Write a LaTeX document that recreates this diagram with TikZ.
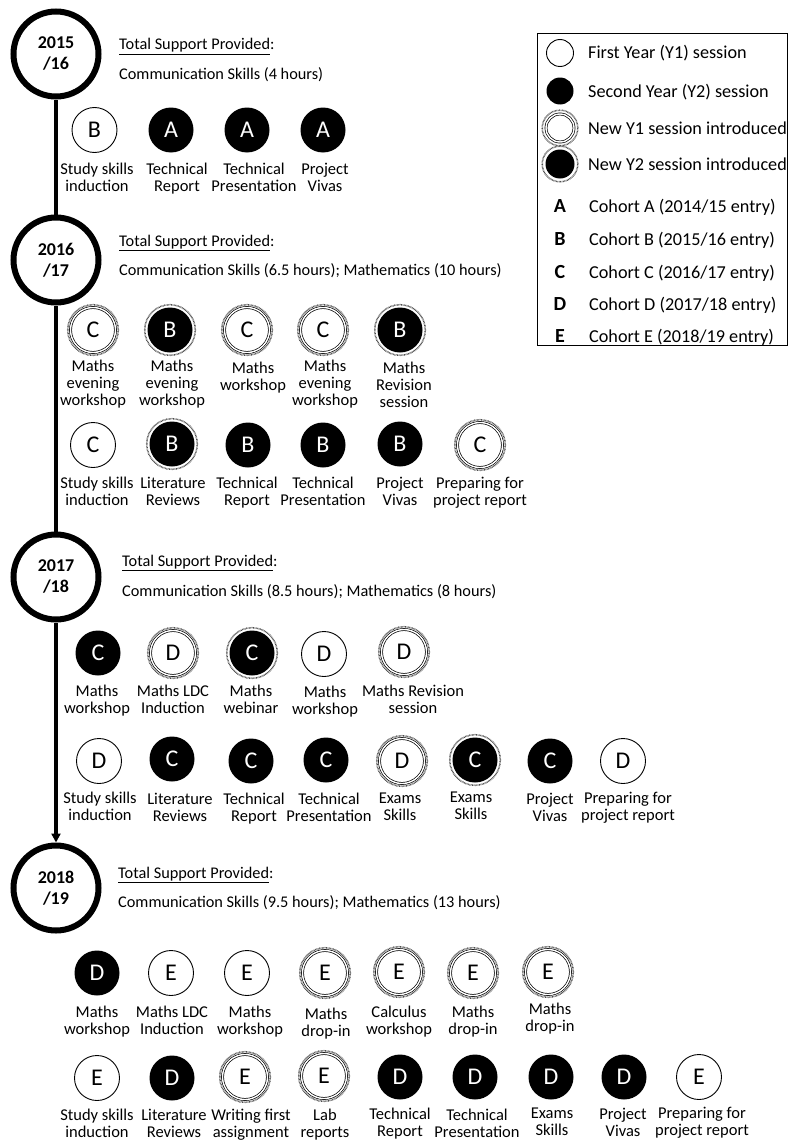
\documentclass[tikz,border=0pt]{standalone}
\usepackage{fontspec}
\setmainfont{Carlito}
\usetikzlibrary{arrows.meta}
\tikzset{
  yr/.style={circle, draw, line width=6pt, minimum size=85pt, inner sep=0pt, align=center,
    font=\fontsize{18}{21}\selectfont\bfseries},
  sbase/.style={circle, minimum size=45pt, inner sep=0pt, font=\fontsize{24}{24}\selectfont},
  y1/.style={sbase, draw, line width=0.9pt, fill=white},
  y2/.style={sbase, fill=black, text=white},
  ny1/.style={sbase, draw, fill=white, line width=0.7pt, double=white, double distance=1.4pt},
  ny2/.style={sbase, fill=black, text=white},
  ring/.style={draw=black!70, line width=1.5pt, dash pattern=on 0.7pt off 0.7pt},
  lbl/.style={anchor=north, align=center, inner sep=0pt, yshift=6pt,
    font=\fontsize{16.5}{17}\selectfont},
  ttl/.style={anchor=base west, inner sep=0pt, font=\fontsize{16.3}{19}\selectfont},
  leg/.style={anchor=base west, inner sep=0pt, font=\fontsize{18.2}{20}\selectfont},
  legl/.style={inner sep=0pt, font=\fontsize{20}{20}\selectfont\bfseries},
  tl/.style={line width=4pt},
}
% plain session: id, x, y, style, letter, label x, label y, label
\newcommand{\sess}[8]{%
  \node[#4] (#1) at (#2,#3) {#5};
  \node[lbl] (#1l) at (#6,#7) {#8};
}
% new session (with dotted ring)
\newcommand{\snew}[8]{%
  \draw[ring] (#2,#3) circle (25.3pt);
  \node[#4] (#1) at (#2,#3) {#5};
  \node[lbl] (#1l) at (#6,#7) {#8};
}
\begin{document}
\begin{tikzpicture}[x=1pt,y=-1pt]
\useasboundingbox[fill=white] (0,0) rectangle (790,1140);

% ---------- timeline ----------
\node[yr] (ya) at (56,54) {2015\\/16};
\node[yr] (yb) at (56,260) {2016\\/17};
\node[yr] (yc) at (56,577) {2017\\/18};
\node[yr] (yd) at (56,888) {2018\\/19};
\draw[tl] (ya.south) -- (yb.north);
\draw[tl] (yb.south) -- (yc.north);
\draw[tl, -{Triangle[length=9pt,width=9pt]}] (yc.south) -- (yd.north);

% ---------- titles ----------
\node[ttl] (ta) at (119,50) {\underline{Total Support Provided}:};
\node[ttl] (ca) at (119,80) {Communication Skills (4 hours)};
\node[ttl] (tb) at (119,246) {\underline{Total Support Provided}:};
\node[ttl] (cb) at (119,275) {Communication Skills (6.5 hours); Mathematics (10 hours)};
\node[ttl] (tc) at (122,566) {\underline{Total Support Provided}:};
\node[ttl] (cc) at (122,596) {Communication Skills (8.5 hours); Mathematics (8 hours)};
\node[ttl] (td) at (118,878) {\underline{Total Support Provided}:};
\node[ttl] (cd) at (118,907) {Communication Skills (9.5 hours); Mathematics (13 hours)};

% ---------- 2015/16 ----------
\sess{a1}{94.5}{130}{y1}{B}{97}{169}{Study skills\\induction}
\sess{a2}{171}{130}{y2}{A}{177}{169}{Technical\\Report}
\sess{a3}{247}{130}{y2}{A}{254}{169}{Technical\\Presentation}
\sess{a4}{323}{130}{y2}{A}{325}{169}{Project\\Vivas}

% ---------- 2016/17 ----------
\snew{b1}{93}{330}{ny1}{C}{93}{366}{Maths\\evening\\workshop}
\snew{b2}{170}{330}{ny2}{B}{172}{366}{Maths\\evening\\workshop}
\snew{b3}{247}{330}{ny1}{C}{253}{368}{Maths\\workshop}
\snew{b4}{323}{330}{ny1}{C}{325}{366}{Maths\\evening\\workshop}
\snew{b5}{400}{330}{ny2}{B}{404}{368}{Maths\\Revision\\session}

\sess{b6}{93}{445}{y1}{C}{97}{483}{Study skills\\induction}
\snew{b7}{172}{444}{ny2}{B}{173}{483}{Literature\\Reviews}
\sess{b8}{248}{445}{y2}{B}{247}{483}{Technical\\Report}
\sess{b9}{323}{445}{y2}{B}{323}{483}{Technical\\Presentation}
\sess{b10}{400}{444}{y2}{B}{400}{483}{Project\\Vivas}
\snew{b11}{480}{445}{ny1}{C}{480}{483}{Preparing for\\project report}

% ---------- 2017/18 ----------
\sess{c1}{98}{653}{y2}{C}{97}{691}{Maths\\workshop}
\snew{c2}{173}{653}{ny1}{D}{173}{691}{Maths LDC\\Induction}
\snew{c3}{252}{653}{ny2}{C}{251}{691}{Maths\\webinar}
\sess{c4}{324}{654}{y1}{D}{325}{692}{Maths\\workshop}
\snew{c5}{404}{652}{ny1}{D}{413}{691}{Maths Revision\\session}

\sess{c6}{99}{761}{y1}{D}{100}{798}{Study skills\\induction}
\sess{c7}{172}{759}{y2}{C}{180}{799}{Literature\\Reviews}
\sess{c8}{251}{761}{y2}{C}{254}{799}{Technical\\Report}
\sess{c9}{326}{760}{y2}{C}{329}{799}{Technical\\Presentation}
\snew{c10}{402}{761}{ny1}{D}{400}{799}{Exams\\Skills}
\snew{c11}{475}{760}{ny2}{C}{471}{798}{Exams\\Skills}
\sess{c12}{550}{761}{y2}{C}{550}{799}{Project\\Vivas}
\sess{c13}{623}{761}{y1}{D}{628}{798}{Preparing for\\project report}

% ---------- 2018/19 ----------
\sess{d1}{97}{973}{y2}{D}{97}{1012}{Maths\\workshop}
\sess{d2}{171}{973}{y1}{E}{172}{1012}{Maths LDC\\Induction}
\sess{d3}{247}{973}{y1}{E}{250}{1012}{Maths\\workshop}
\snew{d4}{325}{973}{ny1}{E}{326}{1014}{Maths\\drop-in}
\snew{d5}{399}{972}{ny1}{E}{399}{1012}{Calculus\\workshop}
\snew{d6}{473}{973}{ny1}{E}{473}{1012}{Maths\\drop-in}
\snew{d7}{548}{972}{ny1}{E}{550}{1009}{Maths\\drop-in}

\sess{d8}{97}{1078}{y1}{E}{97}{1115}{Study skills\\induction}
\sess{d9}{172}{1078}{y2}{D}{174}{1115}{Literature\\Reviews}
\snew{d10}{245}{1077}{ny1}{E}{251}{1115}{Writing first\\assignment}
\snew{d11}{324}{1076}{ny1}{E}{325}{1115}{Lab\\reports}
\sess{d12}{400}{1077}{y2}{D}{400}{1114}{Technical\\Report}
\sess{d13}{475}{1077}{y2}{D}{477}{1115}{Technical\\Presentation}
\sess{d14}{551}{1077}{y2}{D}{552}{1114}{Exams\\Skills}
\sess{d15}{624}{1077}{y2}{D}{623}{1114}{Project\\Vivas}
\sess{d16}{699}{1077}{y1}{E}{702}{1113}{Preparing for\\project report}

% ---------- legend ----------
\node[draw, line width=0.9pt, anchor=north west, minimum width=250pt, minimum height=312pt, inner sep=0pt] (legend) at (537,33) {};
\node[y1, minimum size=27pt] (g1) at (560,53) {};
\node[leg] (g1t) at (588,59) {First Year (Y1) session};
\node[y2, minimum size=27pt] (g2) at (560,91) {};
\node[leg] (g2t) at (588,97) {Second Year (Y2) session};
\draw[ring] (560,128) circle (17.8pt);
\node[ny1, minimum size=28pt] (g3) at (560,128) {};
\node[leg] (g3t) at (588,134) {New Y1 session introduced};
\draw[ring] (560,164) circle (17.8pt);
\node[ny2, minimum size=29pt] (g4) at (560,164) {};
\node[leg] (g4t) at (588,170) {New Y2 session introduced};
\node[legl] (ga) at (560,206) {A};
\node[leg] (gat) at (589,212) {Cohort A (2014/15 entry)};
\node[legl] (gb) at (560,239) {B};
\node[leg] (gbt) at (589,245) {Cohort B (2015/16 entry)};
\node[legl] (gc) at (560,272) {C};
\node[leg] (gct) at (589,278) {Cohort C (2016/17 entry)};
\node[legl] (gd) at (560,304) {D};
\node[leg] (gdt) at (589,310) {Cohort D (2017/18 entry)};
\node[legl] (ge) at (560,336) {E};
\node[leg] (get) at (589,342) {Cohort E (2018/19 entry)};
\end{tikzpicture}
\end{document}
